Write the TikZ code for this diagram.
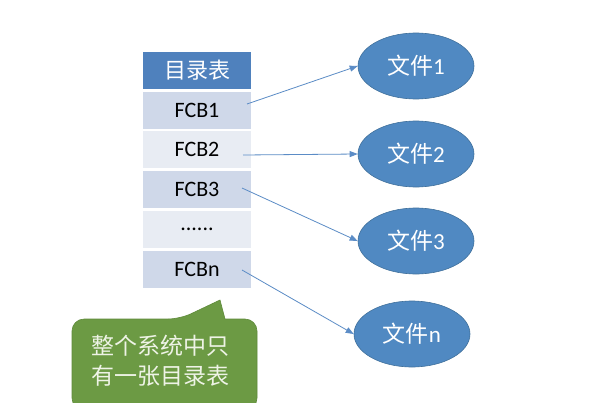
\documentclass[tikz,border=0pt]{standalone}
\usepackage{fontspec}
\setmainfont{Carlito}
\newfontfamily\cjk{Noto Sans CJK SC}
\usetikzlibrary{arrows.meta,shapes.geometric}
\definecolor{hdrblue}{HTML}{4F81BD}
\definecolor{rowdark}{HTML}{CFD8E9}
\definecolor{rowlight}{HTML}{E8ECF3}
\definecolor{ellfill}{HTML}{5089C2}
\definecolor{elldraw}{HTML}{41719C}
\definecolor{arrowblue}{HTML}{5B8CC6}
\definecolor{callfill}{HTML}{6C9A44}
\definecolor{calldraw}{HTML}{5E8A3A}
\definecolor{calltext}{HTML}{EEF3E6}
\tikzset{
  cell/.style={minimum width=108pt, minimum height=37pt, inner sep=0pt, font=\fontsize{22}{24}\selectfont, text=black},
  hdr/.style={cell, fill=hdrblue, text=white, font=\cjk\fontsize{22}{24}\selectfont},
  fileell/.style={ellipse, fill=ellfill, draw=elldraw, line width=0.6pt, minimum width=116pt, minimum height=66pt, inner sep=0pt, text=white, font=\fontsize{23}{26}\selectfont},
  link/.style={draw=arrowblue, line width=0.8pt, -{Triangle[length=8pt,width=6pt]}}
}
\begin{document}
\begin{tikzpicture}[x=1pt,y=-1pt]
\useasboundingbox (0,0) rectangle (589,402);
\fill[white] (0,0) rectangle (589,402);
% table
\node[hdr] (h) at (197,70) {目录表};
\node[cell, fill=rowdark] (r1) at (197,110) {FCB1};
\node[cell, fill=rowlight] (r2) at (197,149) {FCB2};
\node[cell, fill=rowdark] (r3) at (197,189) {FCB3};
\node[cell, fill=rowlight] (r4) at (197,229) {......};
\node[cell, fill=rowdark] (r5) at (197,269) {FCBn};
% files
\node[fileell] (f1) at (416,66) {{\cjk 文件}1};
\node[fileell] (f2) at (416,154) {{\cjk 文件}2};
\node[fileell] (f3) at (416,241) {{\cjk 文件}3};
\node[fileell] (fn) at (412,334) {{\cjk 文件}n};
% links
\coordinate (s1) at (247,104);
\coordinate (s2) at (243,155);
\coordinate (s3) at (242,188);
\coordinate (s5) at (242,270);
\draw[link] (s1) -- (f1.west);
\draw[link] (s2) -- (f2.west);
\draw[link] (s3) -- (f3.west);
\draw[link] (s5) -- (fn.west);
% callout
\draw[fill=callfill, draw=calldraw, line width=0.6pt, rounded corners=12pt]
  (72,319) -- (180,319) [sharp corners]-- (220,300) -- (225,319) [rounded corners=12pt]-- (257,319) -- (257,410) -- (72,410) -- cycle;
\node[text=calltext, font=\cjk\fontsize{23}{30}\selectfont, align=center] (c) at (160,361) {整个系统中只\\有一张目录表};
\end{tikzpicture}
\end{document}
